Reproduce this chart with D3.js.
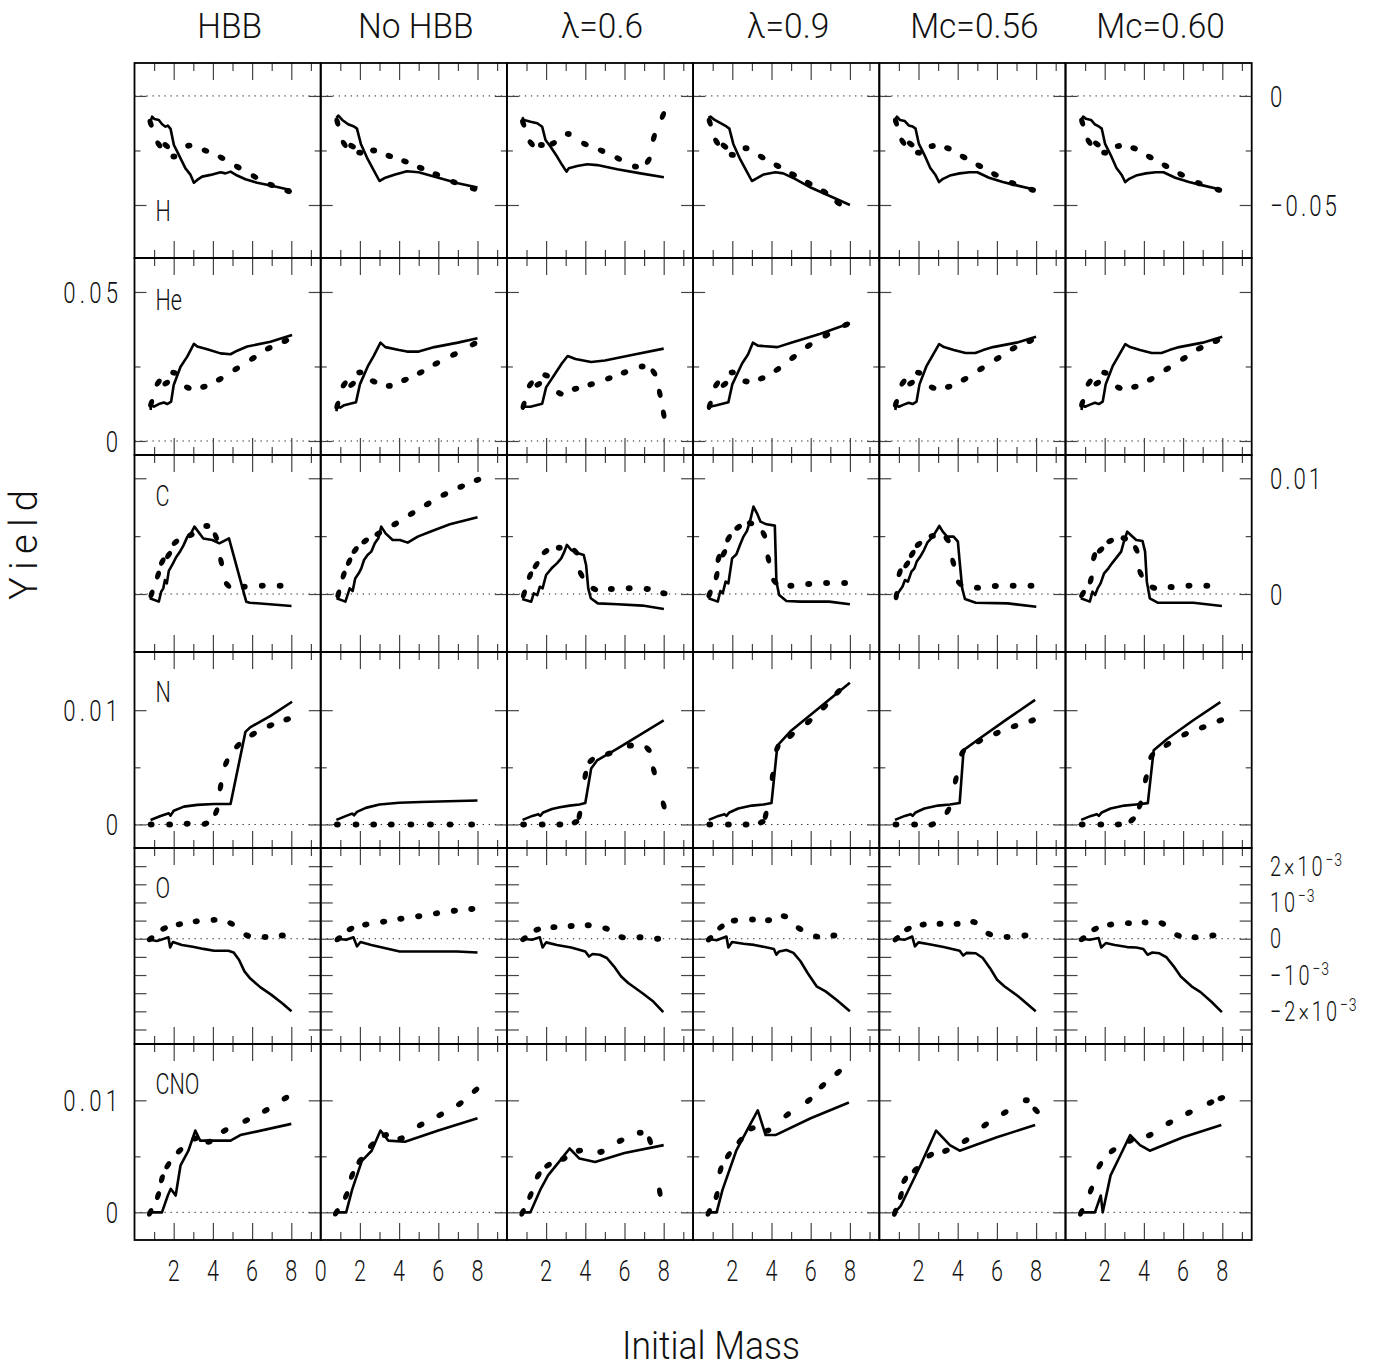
<!DOCTYPE html>
<html lang="en">
<head>
<meta charset="utf-8">
<title>Yields</title>
<script src="https://d3js.org/d3.v7.min.js"></script>
<style>
  body { margin: 0; background: #fff; }
  text { font-family: Roboto, "DejaVu Sans", sans-serif; font-weight: 300; fill: #111; }
</style>
</head>
<body>
<svg id="chart" width="1387" height="1370"></svg>
<script>
// column titles and row (element) names
const models = ["HBB", "No HBB", "\u03bb=0.6", "\u03bb=0.9", "Mc=0.56", "Mc=0.60"];
const elements = ["H", "He", "C", "N", "O", "CNO"];
// every row keeps its values in its own unit
const rowUnit = [1e-2, 1e-2, 1e-3, 1e-3, 1e-3, 1e-3];
const rowDomain = [[-7.43, 1.51], [-0.47, 6.14], [-5.01, 12.01], [-2.06, 15.09], [-2.9, 2.5], [-2.47, 15.03]];
const yMajor = [[0, -5], [0, 5], [0, 10], [0, 10], [-2.5, -2, -1.5, -1, -0.5, 0, 0.5, 1, 1.5, 2], [0, 10]];
const yMinor = [[-2.5], [2.5], [5], [5], [], [5]];
const xMajor = [2, 4, 6, 8];
const xMinor = [1, 3, 5, 7, 9];
const xLabels = [2, 4, 6, 8];

// solid curves, flat [mass, value, ...] per model
const hLine = [
  [0.82,-1.18, 0.90,-0.95, 1.02,-1.06, 1.24,-1.10, 1.41,-1.30, 1.58,-1.41, 1.70,-1.36, 1.84,-1.51, 2.01,-2.25, 2.18,-2.55, 2.43,-3.01, 2.60,-3.32, 2.86,-3.62, 3.03,-3.98, 3.20,-3.85, 3.45,-3.70, 3.88,-3.62, 4.39,-3.50, 4.64,-3.55, 4.90,-3.47, 5.24,-3.65, 5.66,-3.82, 6.26,-3.98, 6.94,-4.11, 7.96,-4.31],
  [0.8,-1.0, 0.9,-0.9, 1.1,-1.1, 1.4,-1.3, 1.7,-1.4, 1.85,-1.5, 2.05,-2.2, 2.4,-2.9, 2.7,-3.4, 3.0,-3.9, 3.3,-3.75, 3.8,-3.6, 4.4,-3.45, 5.0,-3.5, 6.0,-3.75, 7.0,-4.0, 8.0,-4.2],
  [0.78,-0.98, 0.87,-1.1, 1.21,-1.18, 1.55,-1.25, 1.8,-1.41, 1.97,-2.02, 2.22,-2.32, 2.56,-2.78, 2.82,-3.17, 3.04,-3.47, 3.16,-3.32, 3.59,-3.21, 4.1,-3.13, 4.61,-3.17, 5.63,-3.36, 6.82,-3.55, 8.01,-3.73],
  [0.78,-1.0, 0.9,-0.95, 1.1,-1.1, 1.4,-1.25, 1.7,-1.4, 1.85,-1.5, 2.05,-2.2, 2.4,-2.9, 2.7,-3.4, 3.0,-3.9, 3.2,-3.8, 3.6,-3.6, 4.2,-3.5, 4.6,-3.55, 5.2,-3.8, 6.0,-4.2, 7.0,-4.6, 8.0,-5.0],
  [0.82,-1.1, 0.9,-0.95, 1.05,-1.1, 1.3,-1.15, 1.5,-1.35, 1.7,-1.4, 1.85,-1.5, 2.02,-2.2, 2.3,-2.7, 2.6,-3.3, 2.85,-3.6, 3.05,-3.95, 3.25,-3.8, 3.6,-3.65, 4.1,-3.55, 4.6,-3.5, 5.0,-3.5, 5.6,-3.75, 6.3,-3.95, 7.0,-4.1, 7.95,-4.3],
  [0.82,-1.1, 0.9,-0.95, 1.05,-1.05, 1.3,-1.1, 1.5,-1.3, 1.7,-1.4, 1.85,-1.5, 2.02,-2.2, 2.3,-2.7, 2.6,-3.3, 2.85,-3.6, 3.05,-3.95, 3.25,-3.8, 3.6,-3.65, 4.1,-3.55, 4.6,-3.5, 5.0,-3.5, 5.6,-3.75, 6.3,-3.95, 7.0,-4.1, 7.95,-4.3]
];
const hDots = [
  [0.82,-1.25, 1.24,-2.22, 1.62,-2.28, 2.01,-2.78, 2.77,-2.28, 3.62,-2.51, 4.44,-2.83, 5.27,-3.26, 6.12,-3.70, 6.97,-4.08, 7.84,-4.36],
  [0.85,-1.2, 1.2,-2.2, 1.6,-2.3, 2.0,-2.6, 2.7,-2.5, 3.5,-2.75, 4.3,-3.0, 5.1,-3.3, 5.9,-3.6, 6.8,-3.95, 7.8,-4.25],
  [0.83,-1.25, 1.24,-2.17, 1.76,-2.25, 2.36,-2.17, 3.13,-1.74, 3.98,-2.2, 4.83,-2.51, 5.68,-2.87, 6.56,-3.24, 7.21,-2.97, 7.5,-1.9, 7.96,-0.9],
  [0.85,-1.2, 1.2,-2.1, 1.6,-2.3, 2.0,-2.7, 2.7,-2.4, 3.5,-2.8, 4.3,-3.2, 5.1,-3.6, 5.9,-4.0, 6.7,-4.4, 7.4,-4.9],
  [0.85,-1.2, 1.2,-2.1, 1.6,-2.2, 2.0,-2.6, 2.7,-2.3, 3.5,-2.4, 4.3,-2.8, 5.1,-3.2, 5.9,-3.6, 6.8,-4.0, 7.8,-4.3],
  [0.85,-1.2, 1.2,-2.1, 1.6,-2.2, 2.0,-2.6, 2.7,-2.3, 3.5,-2.4, 4.3,-2.8, 5.1,-3.2, 5.9,-3.6, 6.8,-4.0, 7.8,-4.3]
];
const heLine = [
  [0.82,1.04, 0.85,1.21, 0.99,1.15, 1.24,1.24, 1.5,1.29, 1.67,1.24, 1.87,1.32, 2.0,1.88, 2.35,2.49, 2.69,2.83, 3.03,3.26, 3.2,3.17, 3.71,3.08, 4.39,2.94, 4.9,2.91, 5.24,3.03, 5.75,3.17, 6.94,3.33, 8.04,3.56],
  [0.8,1.0, 0.85,1.15, 1.0,1.12, 1.2,1.2, 1.5,1.25, 1.8,1.3, 2.0,1.9, 2.4,2.5, 2.7,2.85, 3.05,3.3, 3.3,3.15, 4.0,3.05, 4.4,3.0, 5.0,3.0, 5.8,3.15, 7.0,3.3, 8.0,3.45],
  [0.8,1.05, 0.85,1.15, 1.2,1.15, 1.5,1.2, 1.8,1.25, 2.0,1.8, 2.5,2.3, 2.8,2.6, 3.1,2.85, 3.5,2.75, 4.3,2.65, 5.0,2.7, 6.5,2.9, 8.0,3.1],
  [0.8,1.05, 0.85,1.15, 1.2,1.2, 1.5,1.25, 1.8,1.3, 2.0,1.9, 2.5,2.6, 2.8,2.9, 3.05,3.3, 3.3,3.2, 4.3,3.15, 5.0,3.3, 6.5,3.6, 8.0,3.95],
  [0.82,1.04, 0.85,1.2, 1.0,1.15, 1.25,1.22, 1.5,1.28, 1.7,1.24, 1.9,1.32, 2.05,1.9, 2.4,2.5, 2.7,2.85, 3.05,3.25, 3.3,3.15, 3.8,3.05, 4.4,2.95, 4.9,2.95, 5.3,3.05, 5.8,3.15, 7.0,3.3, 8.0,3.5],
  [0.82,1.04, 0.85,1.2, 1.0,1.15, 1.25,1.22, 1.5,1.28, 1.7,1.24, 1.9,1.32, 2.05,1.9, 2.4,2.5, 2.7,2.85, 3.05,3.25, 3.3,3.15, 3.8,3.05, 4.4,2.95, 4.9,2.95, 5.3,3.05, 5.8,3.15, 7.0,3.3, 8.0,3.5]
];
const heDots = [
  [0.85,1.26, 1.21,1.96, 1.62,1.94, 2.01,2.29, 2.72,1.79, 3.54,1.82, 4.35,2.07, 5.19,2.42, 6.04,2.77, 6.85,3.11, 7.7,3.36],
  [0.85,1.2, 1.2,1.9, 1.6,1.9, 2.0,2.3, 2.7,2.0, 3.5,1.85, 4.3,2.05, 5.1,2.3, 5.9,2.6, 6.8,2.9, 7.8,3.25],
  [0.85,1.2, 1.2,1.9, 1.6,1.9, 2.0,2.2, 2.7,1.6, 3.5,1.75, 4.3,1.9, 5.2,2.1, 6.0,2.3, 6.9,2.5, 7.5,2.3, 7.8,1.6, 8.0,0.9],
  [0.85,1.2, 1.2,1.9, 1.6,1.9, 2.0,2.3, 2.7,2.0, 3.5,2.1, 4.3,2.4, 5.1,2.8, 5.9,3.2, 6.8,3.55, 7.8,3.9],
  [0.85,1.26, 1.21,1.96, 1.62,1.94, 2.01,2.29, 2.72,1.79, 3.54,1.82, 4.35,2.07, 5.19,2.42, 6.04,2.77, 6.85,3.11, 7.7,3.36],
  [0.85,1.26, 1.21,1.96, 1.62,1.94, 2.01,2.29, 2.72,1.79, 3.54,1.82, 4.35,2.07, 5.19,2.42, 6.04,2.77, 6.85,3.11, 7.7,3.36]
];
const cLine = [
  [0.78,-0.37, 1.24,-0.66, 1.36,0.2, 1.47,0.49, 1.55,1.2, 1.65,0.92, 1.75,2.0, 1.95,2.6, 2.13,3.2, 2.3,3.6, 2.5,4.2, 2.7,4.96, 2.88,5.24, 3.06,5.82, 3.51,4.8, 3.97,4.67, 4.33,4.38, 4.82,4.8, 5.70,-0.66, 5.88,-0.75, 8.01,-1.04],
  [0.81,-0.37, 1.26,-0.66, 1.48,0.49, 1.63,0.26, 1.76,1.35, 1.94,1.79, 2.07,2.22, 2.21,2.94, 2.39,3.37, 2.58,3.66, 2.76,4.38, 2.94,4.81, 3.09,5.82, 3.31,5.24, 3.67,4.67, 4.04,4.67, 4.44,4.44, 4.95,4.96, 5.68,5.45, 6.59,6.02, 8.0,6.63],
  [0.78,-0.43, 1.24,-0.66, 1.37,0.06, 1.55,-0.09, 1.68,0.63, 1.82,0.49, 2.0,1.64, 2.28,2.22, 2.55,2.65, 2.77,3.08, 2.91,3.57, 3.06,4.24, 3.28,3.8, 3.64,3.52, 3.92,3.37, 4.04,2.51, 4.15,0.49, 4.28,-0.37, 4.64,-0.81, 5.65,-0.89, 6.92,-1.0, 8.01,-1.3],
  [0.79,-0.37, 1.26,-0.66, 1.39,0.26, 1.51,0.06, 1.66,1.07, 1.8,0.92, 1.99,3.08, 2.21,3.43, 2.39,4.24, 2.57,4.96, 2.75,5.45, 2.9,6.25, 3.08,7.55, 3.26,6.97, 3.44,6.25, 3.75,6.02, 4.17,5.91, 4.25,1.07, 4.39,-0.09, 4.76,-0.61, 5.48,-0.66, 6.94,-0.66, 8.0,-0.89],
  [0.82,-0.43, 1.0,0.2, 1.18,0.63, 1.31,1.21, 1.46,1.07, 1.64,1.93, 1.79,2.22, 1.91,2.8, 2.09,3.23, 2.28,3.8, 2.46,4.47, 2.73,4.96, 3.06,5.88, 3.24,5.39, 3.46,4.96, 3.79,4.96, 4.01,4.52, 4.1,2.8, 4.23,0.49, 4.37,-0.43, 4.92,-0.75, 6.56,-0.81, 8.01,-1.1],
  [0.78,-0.37, 1.24,-0.66, 1.38,0.2, 1.51,-0.09, 1.64,0.49, 1.79,0.92, 1.97,1.79, 2.19,2.22, 2.37,2.65, 2.6,3.14, 2.84,3.66, 2.97,4.47, 3.15,5.39, 3.33,5.1, 3.61,4.67, 3.93,4.58, 4.06,3.66, 4.15,1.07, 4.3,-0.37, 4.7,-0.75, 6.52,-0.75, 7.98,-1.04]
];
const cDots = [
  [0.87,0, 1.2,1.64, 1.42,2.8, 1.74,3.37, 2.09,4.47, 2.87,5.1, 3.69,5.88, 4.15,4.96, 4.42,2.8, 4.75,0.78, 5.6,0.63, 6.52,0.72, 7.43,0.72],
  [0.9,0, 1.17,1.64, 1.45,2.8, 1.76,3.8, 2.27,4.58, 2.94,5.22, 3.8,6.05, 4.64,6.95, 5.46,7.78, 6.31,8.59, 7.17,9.28, 8.0,9.86],
  [0.87,0, 1.18,1.59, 1.49,2.5, 1.97,3.66, 2.67,4.0, 3.5,3.66, 3.79,1.7, 4.46,0.43, 5.33,0.43, 6.24,0.49, 7.16,0.43, 8.01,0.06],
  [0.84,0, 1.2,1.59, 1.3,3.08, 1.57,3.52, 1.81,4.81, 2.3,5.76, 2.93,6.11, 3.61,5.16, 3.84,3.03, 4.17,1.07, 4.99,0.72, 5.9,0.86, 6.81,0.95, 7.73,0.95],
  [0.87,-0.14, 1.04,1.84, 1.4,2.56, 1.68,3.46, 2.0,4.29, 2.7,5.01, 3.46,4.73, 3.77,2.74, 4.1,0.92, 5.01,0.55, 5.92,0.69, 6.83,0.72, 7.74,0.72],
  [0.87,0, 1.29,1.21, 1.46,3.23, 1.79,3.8, 2.28,4.58, 3.0,4.81, 3.61,3.86, 3.83,1.79, 4.48,0.55, 5.39,0.6, 6.3,0.72, 7.21,0.72]
];
const nLine = [
  [0.82,0.39, 1.33,0.74, 1.75,0.98, 1.84,0.77, 2.0,1.2, 2.52,1.56, 3.2,1.71, 4.05,1.79, 4.9,1.79, 5.66,8.1, 5.9,8.5, 6.94,9.5, 8.04,10.74],
  [0.8,0.4, 1.3,0.75, 1.6,0.95, 1.7,0.8, 1.85,1.1, 2.3,1.45, 3.0,1.75, 4.0,1.9, 5.1,1.97, 6.5,2.03, 8.0,2.1],
  [0.8,0.4, 1.3,0.75, 1.6,0.9, 1.7,0.75, 1.85,1.05, 2.3,1.35, 2.7,1.5, 3.2,1.65, 3.7,1.75, 4.0,1.87, 4.3,4.9, 4.6,5.6, 5.7,6.7, 8.0,9.1],
  [0.8,0.4, 1.3,0.75, 1.6,0.9, 1.7,0.75, 1.85,1.05, 2.3,1.4, 3.0,1.65, 3.6,1.75, 4.0,1.87, 4.3,6.9, 5.0,8.2, 6.5,10.3, 8.0,12.4],
  [0.8,0.4, 1.3,0.75, 1.6,0.9, 1.7,0.75, 1.85,1.05, 2.3,1.4, 3.0,1.65, 3.6,1.75, 4.1,1.87, 4.3,6.5, 5.1,7.5, 6.5,9.2, 7.95,10.9],
  [0.8,0.4, 1.3,0.75, 1.6,0.9, 1.7,0.75, 1.85,1.05, 2.3,1.4, 3.0,1.65, 3.6,1.75, 4.2,1.87, 4.5,6.5, 5.2,7.5, 6.5,9.1, 7.9,10.7]
];
const nDots = [
  [0.85,0, 1.79,0, 2.69,0.07, 3.62,0.07, 4.17,1.12, 4.39,3.3, 4.68,5.4, 5.27,6.9, 6.05,7.9, 6.94,8.67, 7.79,9.2],
  [0.85,0, 1.8,0, 2.7,0, 3.6,0, 4.6,0, 5.6,0, 6.6,0, 7.7,0],
  [0.85,0, 1.8,0, 2.7,0, 3.5,0.2, 3.7,0.8, 4.0,4.3, 4.3,5.6, 5.2,6.2, 6.3,6.9, 7.2,6.6, 7.5,4.7, 8.0,1.7],
  [0.85,0, 1.8,0, 2.7,0, 3.5,0.2, 3.7,0.8, 4.05,4.2, 4.3,6.7, 5.0,7.8, 5.9,9.0, 6.7,10.3, 7.4,11.6],
  [0.85,0, 1.8,0, 2.7,0, 3.5,1.2, 3.9,3.9, 4.25,6.3, 5.1,7.3, 6.0,8.0, 6.9,8.6, 7.8,9.1],
  [0.85,0, 1.8,0, 2.7,0, 3.4,0.4, 3.8,1.7, 4.1,4.0, 4.4,6.0, 5.2,7.0, 6.1,7.9, 7.0,8.5, 7.9,9.1]
];
const oLine = [
  [0.78,-0.03, 1.14,-0.06, 1.51,0, 1.73,0.04, 1.82,-0.24, 1.96,-0.09, 2.42,-0.17, 2.97,-0.22, 3.52,-0.28, 4.06,-0.33, 4.79,-0.33, 5.06,-0.38, 5.33,-0.58, 5.61,-0.9, 5.88,-1.08, 6.43,-1.34, 6.97,-1.54, 7.52,-1.77, 8.01,-2.0],
  [0.84,0, 1.3,-0.03, 1.67,0.04, 1.85,-0.21, 2.03,-0.09, 2.58,-0.17, 3.31,-0.26, 4.03,-0.35, 5.13,-0.35, 6.95,-0.35, 8.0,-0.38],
  [0.82,0, 1.28,-0.03, 1.68,0.04, 1.82,-0.24, 2.0,-0.1, 2.55,-0.17, 3.28,-0.24, 4.0,-0.35, 4.19,-0.49, 4.37,-0.42, 4.74,-0.44, 5.1,-0.53, 5.46,-0.76, 5.83,-1.04, 6.19,-1.22, 6.92,-1.5, 7.47,-1.73, 7.98,-2.02],
  [0.75,0, 1.2,-0.04, 1.7,0.06, 1.8,-0.24, 1.99,-0.09, 2.57,-0.14, 3.12,-0.17, 3.66,-0.23, 4.12,-0.28, 4.25,-0.44, 4.39,-0.35, 4.76,-0.31, 5.12,-0.39, 5.48,-0.62, 5.85,-0.95, 6.3,-1.31, 6.76,-1.45, 7.31,-1.68, 8.0,-2.0],
  [0.82,0, 1.28,-0.03, 1.68,0.06, 1.82,-0.21, 2.0,-0.1, 2.55,-0.15, 3.28,-0.23, 4.1,-0.33, 4.28,-0.46, 4.46,-0.39, 4.92,-0.4, 5.28,-0.53, 5.65,-0.81, 6.01,-1.13, 6.38,-1.31, 7.1,-1.59, 7.98,-2.0],
  [0.78,0, 1.24,-0.03, 1.69,0.02, 1.82,-0.24, 2.06,-0.12, 2.51,-0.17, 3.15,-0.23, 3.61,-0.24, 3.97,-0.28, 4.19,-0.44, 4.43,-0.38, 4.79,-0.4, 5.15,-0.51, 5.52,-0.76, 5.88,-1.04, 6.43,-1.31, 6.89,-1.47, 7.43,-1.73, 7.98,-2.02]
];
const oDots = [
  [0.82,0, 1.51,0.28, 2.29,0.4, 3.15,0.48, 4.06,0.52, 4.93,0.42, 5.75,0.09, 6.66,0.05, 7.54,0.09],
  [0.9,0, 1.52,0.27, 2.3,0.39, 3.21,0.47, 4.09,0.55, 5.0,0.62, 5.91,0.7, 6.82,0.77, 7.71,0.82],
  [0.87,0, 1.55,0.25, 2.4,0.32, 3.28,0.35, 4.15,0.37, 5.06,0.28, 5.88,0.04, 6.79,0.04, 7.69,0],
  [0.84,0, 1.42,0.32, 2.11,0.5, 3.03,0.53, 3.85,0.51, 4.66,0.62, 5.43,0.28, 6.3,0.06, 7.18,0.09],
  [0.87,0, 1.46,0.27, 2.24,0.39, 3.1,0.41, 3.97,0.41, 4.83,0.46, 5.61,0.13, 6.52,0.05, 7.43,0.09],
  [0.87,0, 1.51,0.27, 2.3,0.39, 3.21,0.43, 4.06,0.45, 4.94,0.42, 5.74,0.09, 6.61,0.04, 7.52,0.09]
];
const cnoLine = [
  [0.82,0, 1.4,0, 1.7,1.5, 1.85,2.1, 2.1,1.5, 2.35,4.2, 2.75,5.5, 3.1,7.3, 3.35,6.4, 3.9,6.4, 4.9,6.4, 5.4,6.9, 8.0,7.9],
  [0.8,0, 1.3,0, 1.6,2.0, 2.1,4.6, 2.6,5.5, 3.05,7.3, 3.45,6.4, 4.3,6.3, 6.0,7.3, 8.0,8.4],
  [0.8,0, 1.2,0, 1.7,2.0, 2.1,3.3, 2.7,4.6, 3.2,5.7, 3.7,4.8, 4.5,4.5, 6.0,5.3, 8.0,6.0],
  [0.8,0, 1.2,0, 1.5,2.0, 2.2,5.5, 2.9,7.8, 3.3,9.1, 3.7,6.9, 4.2,6.9, 6.0,8.4, 7.95,9.8],
  [0.8,0, 1.1,0.6, 1.6,2.4, 2.1,4.2, 2.9,7.3, 3.6,6.0, 4.1,5.5, 6.0,6.7, 7.95,7.8],
  [0.8,0, 1.5,0, 1.8,1.5, 1.9,0, 2.3,3.3, 2.8,5.1, 3.3,6.9, 3.8,6.0, 4.3,5.5, 6.0,6.7, 7.95,7.8]
];
const cnoDots = [
  [0.8,0, 1.2,1.5, 1.4,3.0, 1.7,4.2, 2.3,5.5, 3.1,6.6, 3.8,6.3, 4.6,7.3, 5.7,8.2, 6.7,9.1, 7.7,10.2],
  [0.8,0, 1.3,1.5, 1.6,3.3, 2.0,4.6, 2.6,6.0, 3.3,6.9, 4.1,6.6, 5.1,7.8, 6.1,8.7, 7.1,9.7, 7.9,10.9],
  [0.8,0, 1.2,1.5, 1.6,3.3, 2.1,4.2, 2.9,4.8, 3.7,5.5, 4.8,5.4, 5.8,6.4, 6.8,7.1, 7.3,6.4, 7.8,1.8],
  [0.8,0, 1.2,1.5, 1.4,3.8, 1.8,5.1, 2.4,6.4, 3.0,7.5, 3.8,7.3, 4.8,8.7, 5.9,10.0, 6.6,11.3, 7.4,12.5],
  [0.8,0, 1.1,1.5, 1.3,2.9, 1.85,3.8, 2.6,5.1, 3.4,5.5, 4.4,6.4, 5.4,7.8, 6.4,8.9, 7.5,10.0, 8.0,9.1],
  [0.8,0, 1.3,2.0, 1.75,4.2, 2.4,5.5, 3.3,6.4, 4.3,6.9, 5.3,8.0, 6.3,8.9, 7.4,9.8, 7.95,10.2]
];
const lines = [hLine, heLine, cLine, nLine, oLine, cnoLine];
const dots = [hDots, heDots, cDots, nDots, oDots, cnoDots];

// tick labels: side of the grid and [value, text, superscript]
const yLabelSide = ["right", "left", "right", "left", "right", "left"];
const yLabels = [
  [[0, "0"], [-5, "\u22120.05"]],
  [[5, "0.05"], [0, "0"]],
  [[10, "0.01"], [0, "0"]],
  [[10, "0.01"], [0, "0"]],
  [[2, "2\u00d710", "\u22123"], [1, "10", "\u22123"], [0, "0"], [-1, "\u221210", "\u22123"], [-2, "\u22122\u00d710", "\u22123"]],
  [[10, "0.01"], [0, "0"]]
];

const svg = d3.select("#chart");
const left = 134.5, panelW = 186.2;
const rowEdges = [63, 258, 455, 652, 848, 1044, 1240];
const labelDy = [158, 52, 51, 50, 50, 50];

function pairs(flat) {
  const out = [];
  for (let i = 0; i < flat.length; i += 2) out.push([flat[i], flat[i + 1]]);
  return out;
}

function drawText(g, x, y, str, size, anchor, sx) {
  return g.append("text")
    .attr("transform", "translate(" + x + "," + y + ") scale(" + sx + ",1)")
    .attr("font-size", size)
    .attr("text-anchor", anchor)
    .text(str);
}

models.forEach(function(model, c) {
  const x = d3.scaleLinear().domain([0, 9.5]).range([left + c * panelW, left + (c + 1) * panelW]);

  elements.forEach(function(el, r) {
    const u = rowUnit[r];
    const y = d3.scaleLinear()
      .domain([rowDomain[r][0] * u, rowDomain[r][1] * u])
      .range([rowEdges[r + 1], rowEdges[r]]);
    const g = svg.append("g");

    // dotted zero line
    g.append("line")
      .attr("x1", x(0)).attr("x2", x(9.5))
      .attr("y1", y(0)).attr("y2", y(0))
      .attr("stroke", "#222").attr("stroke-width", 1)
      .attr("stroke-dasharray", "1.3,4.7");

    // ticks, inward on all four sides
    const tickAx = function(axis, vals, len, tx, ty) {
      const a = g.append("g").attr("transform", "translate(" + tx + "," + ty + ")")
        .call(axis.tickValues(vals).tickSize(len).tickFormat(""));
      a.select(".domain").remove();
      a.selectAll("line").attr("stroke", "#444").attr("stroke-width", 1.2);
    };
    tickAx(d3.axisBottom(x), xMajor, -17, 0, rowEdges[r + 1]);
    tickAx(d3.axisBottom(x), xMinor, -8, 0, rowEdges[r + 1]);
    tickAx(d3.axisTop(x), xMajor, -17, 0, rowEdges[r]);
    tickAx(d3.axisTop(x), xMinor, -8, 0, rowEdges[r]);
    const ym = yMajor[r].map(v => v * u), yn = yMinor[r].map(v => v * u);
    tickAx(d3.axisLeft(y), ym, -12, x(0), 0);
    tickAx(d3.axisLeft(y), yn, -6, x(0), 0);
    tickAx(d3.axisRight(y), ym, -12, x(9.5), 0);
    tickAx(d3.axisRight(y), yn, -6, x(9.5), 0);

    // model curve
    const pts = pairs(lines[r][c]).map(p => [p[0], p[1] * u]);
    g.append("path")
      .attr("d", d3.line().x(p => x(p[0])).y(p => y(p[1]))(pts))
      .attr("fill", "none").attr("stroke", "#000")
      .attr("stroke-width", 2.6).attr("stroke-linejoin", "round");

    // dotted comparison curve, each dot stretched along the curve
    const dp = pairs(dots[r][c]).map(p => [x(p[0]), y(p[1] * u)]);
    dp.forEach(function(p, i) {
      const a = dp[Math.max(0, i - 1)], b = dp[Math.min(dp.length - 1, i + 1)];
      const ang = Math.atan2(b[1] - a[1], b[0] - a[0]);
      const s = Math.abs(Math.sin(ang));
      g.append("ellipse")
        .attr("cx", p[0]).attr("cy", p[1])
        .attr("rx", 3.4 + 1.3 * s).attr("ry", 3.0 - 0.4 * s)
        .attr("transform", "rotate(" + (ang * 180 / Math.PI) + "," + p[0] + "," + p[1] + ")")
        .attr("fill", "#000");
    });

    // frame
    g.append("rect")
      .attr("x", x(0)).attr("y", rowEdges[r])
      .attr("width", panelW).attr("height", rowEdges[r + 1] - rowEdges[r])
      .attr("fill", "none").attr("stroke", "#000").attr("stroke-width", 1.8);

    if (c === 0) drawText(g, x(0) + 21, rowEdges[r] + labelDy[r], el, 30, "start", 0.72);

    // value labels on the outer side; the oxygen row packs five, so a bit smaller
    if ((yLabelSide[r] === "left" && c === 0) || (yLabelSide[r] === "right" && c === 5)) {
      const fs = r === 4 ? 27 : 30;
      yLabels[r].forEach(function(l) {
        const onLeft = yLabelSide[r] === "left";
        const t = drawText(svg, onLeft ? 118 : 1270, y(l[0] * u) + fs * 0.36, l[1], fs, onLeft ? "end" : "start", 0.74)
          .attr("letter-spacing", onLeft ? 0 : 4);
        if (onLeft) t.attr("textLength", l[1].length * 18.5).attr("lengthAdjust", "spacing");
        if (l[2]) t.append("tspan").attr("dy", -10).attr("font-size", 19).attr("letter-spacing", 1).text(l[2]);
      });
    }
  });

  drawText(svg, x(4.85), 38, model, 36, "middle", 0.93);
  const xl = c === 1 ? [0].concat(xLabels) : xLabels;
  xl.forEach(v => drawText(svg, x(v), 1281, String(v), 30, "middle", 0.72));
});

svg.append("text")
  .attr("x", 711).attr("y", 1359)
  .attr("font-size", 39).attr("text-anchor", "middle")
  .attr("textLength", 178).attr("lengthAdjust", "spacingAndGlyphs")
  .text("Initial Mass");
svg.append("text")
  .attr("transform", "translate(37,545) rotate(-90)")
  .attr("font-size", 38).attr("text-anchor", "middle")
  .attr("textLength", 110).attr("lengthAdjust", "spacing")
  .text("Yield");
</script>
</body>
</html>
